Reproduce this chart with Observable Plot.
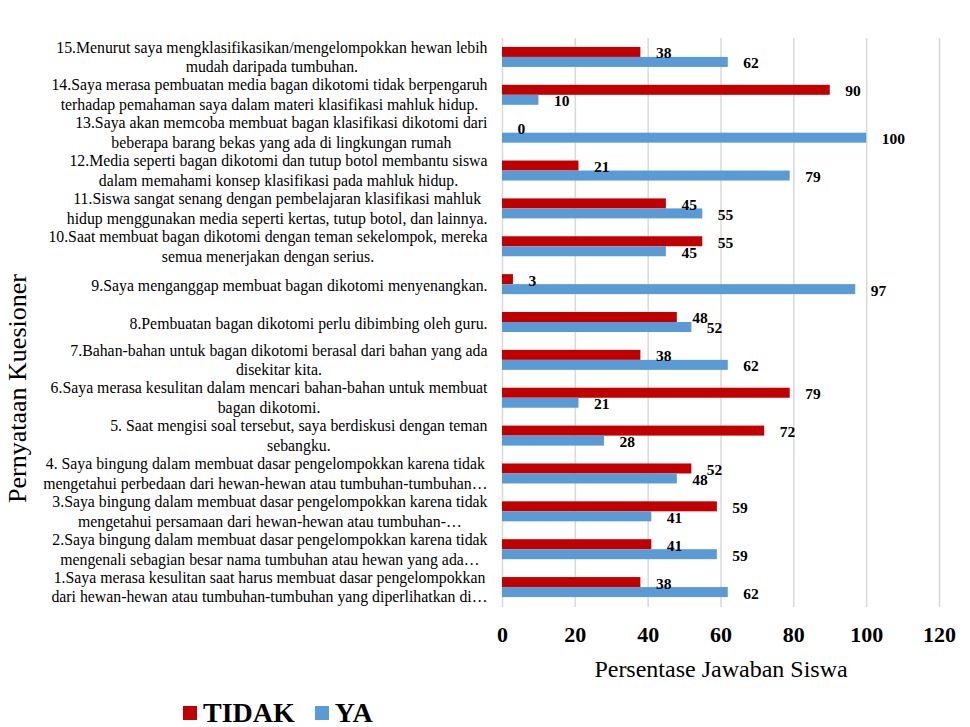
<!DOCTYPE html>
<html>
<head>
<meta charset="utf-8">
<script src="https://cdn.jsdelivr.net/npm/d3@7"></script>
<script src="https://cdn.jsdelivr.net/npm/@observablehq/plot@0.6"></script>
<style>
  html, body { margin: 0; padding: 0; background: #fff; }
  #chart { width: 970px; height: 686px; }
  .legend { display: flex; align-items: center; height: 28px; line-height: 28px; padding-left: 183px; margin-top: 13px;
    font-family: "Liberation Serif", "Times New Roman", serif; font-weight: bold; font-size: 28px; color: #000; }
  .legend .sw { width: 14px; height: 14px; display: inline-block; margin-right: 6px; }
  .legend .item { display: flex; align-items: center; margin-right: 20px; }
</style>
</head>
<body>
<div id="chart"></div>
<script>
const categories = ["1","2","3","4","5","6","7","8","9","10","11","12","13","14","15"];
const categoryLabels = [
  "1.Saya merasa kesulitan saat harus membuat dasar pengelompokkan\ndari hewan-hewan atau tumbuhan-tumbuhan yang diperlihatkan di…",
  "2.Saya bingung dalam membuat dasar pengelompokkan karena tidak\nmengenali sebagian besar nama tumbuhan atau hewan yang ada…",
  "3.Saya bingung dalam membuat dasar pengelompokkan karena tidak\nmengetahui persamaan dari hewan-hewan atau tumbuhan-…",
  "4. Saya bingung dalam membuat dasar pengelompokkan karena tidak\nmengetahui perbedaan dari hewan-hewan atau tumbuhan-tumbuhan…",
  "5. Saat mengisi soal tersebut, saya berdiskusi dengan teman\nsebangku.",
  "6.Saya merasa kesulitan dalam mencari bahan-bahan untuk membuat\nbagan dikotomi.",
  "7.Bahan-bahan untuk bagan dikotomi berasal dari bahan yang ada\ndisekitar kita.",
  "8.Pembuatan bagan dikotomi perlu dibimbing oleh guru.",
  "9.Saya menganggap membuat bagan dikotomi menyenangkan.",
  "10.Saat membuat bagan dikotomi dengan teman sekelompok, mereka\nsemua menerjakan dengan serius.",
  "11.Siswa sangat senang dengan pembelajaran klasifikasi mahluk\nhidup menggunakan media seperti kertas, tutup botol, dan lainnya.",
  "12.Media seperti bagan dikotomi dan tutup botol membantu siswa\ndalam memahami konsep klasifikasi pada mahluk hidup.",
  "13.Saya akan memcoba membuat bagan klasifikasi dikotomi dari\nbeberapa barang bekas yang ada di lingkungan rumah",
  "14.Saya merasa pembuatan media bagan dikotomi tidak berpengaruh\nterhadap pemahaman saya dalam materi klasifikasi mahluk hidup.",
  "15.Menurut saya mengklasifikasikan/mengelompokkan hewan lebih\nmudah daripada tumbuhan."
];
const tidak = [38, 41, 59, 52, 72, 79, 38, 48, 3, 55, 45, 21, 0, 90, 38];
const ya    = [62, 59, 41, 48, 28, 21, 62, 52, 97, 45, 55, 79, 100, 10, 62];
const seriesNames = ["TIDAK", "YA"];
const seriesColors = ["#C00000", "#5B9BD5"];
const xTicks = [0, 20, 40, 60, 80, 100, 120];
const xTitle = "Persentase Jawaban Siswa";
const yTitle = "Pernyataan Kuesioner";

const labelOf = new Map(categories.map((c, i) => [c, categoryLabels[i]]));
const rowsT = categories.map((c, i) => ({cat: c, value: tidak[i]}));
const rowsY = categories.map((c, i) => ({cat: c, value: ya[i]}));

const W = 970, H = 686;
const mTop = 38, mBottom = 80;
const band = (H - mTop - mBottom) / categories.length;
const half = 10;
const LH = 1.25;

const chart = Plot.plot({
  width: W, height: H,
  marginLeft: 502, marginRight: 31, marginTop: mTop, marginBottom: mBottom,
  style: {fontFamily: "'Liberation Serif', 'Times New Roman', serif", fontSize: "15.8px", color: "#000", background: "#fff"},
  x: {domain: [0, 120]},
  y: {domain: categories.slice().reverse(), padding: 0, round: false},
  marks: [
    Plot.ruleX(xTicks, {x: d => d, stroke: "#d9d9d9", strokeWidth: 1.5, insetBottom: -1}),
    Plot.barX(rowsT, {y: "cat", x: "value", fill: seriesColors[0],
      insetTop: band/2 - half, insetBottom: band/2}),
    Plot.barX(rowsY, {y: "cat", x: "value", fill: seriesColors[1],
      insetTop: band/2, insetBottom: band/2 - half}),
    Plot.text(rowsT, {y: "cat", x: "value", text: d => String(d.value), dx: 15, dy: -4,
      textAnchor: "start", fontWeight: "bold", fontSize: 15.5, fill: "#000"}),
    Plot.text(rowsY, {y: "cat", x: "value", text: d => String(d.value), dx: 15, dy: 6,
      textAnchor: "start", fontWeight: "bold", fontSize: 15.5, fill: "#000"}),
    Plot.axisX({ticks: xTicks, tickSize: 0, tickPadding: 20, fontSize: 22, fontWeight: "bold",
      label: xTitle, labelAnchor: "center", labelArrow: "none", labelOffset: 70}),
    Plot.axisY({tickSize: 0, tickPadding: 15, tickFormat: d => labelOf.get(d), lineHeight: LH,
      label: null}),
    Plot.text([yTitle], {frameAnchor: "left", text: d => d, rotate: -90, dx: -485, dy: 66,
      textAnchor: "middle", fontSize: 26, fill: "#000"})
  ]
});
document.getElementById("chart").appendChild(chart);

// style x-axis title
chart.querySelectorAll('g[aria-label="x-axis label"] text').forEach(t => {
  t.setAttribute("font-size", "24"); t.style.fontSize = "24px"; t.setAttribute("font-weight", "normal");
});

// center multi-line y tick labels within their block (right edge kept), vertically centered on band
chart.querySelectorAll('g[aria-label="y-axis tick label"] text').forEach(t => {
  const spans = t.querySelectorAll("tspan");
  const n = spans.length;
  if (n < 2) return;
  let maxW = 0;
  spans.forEach(s => { maxW = Math.max(maxW, s.getComputedTextLength()); });
  t.setAttribute("text-anchor", "middle");
  spans.forEach((s, i) => {
    s.setAttribute("x", String(-maxW / 2));
    s.removeAttribute("y");
    s.setAttribute("dy", i === 0 ? `${0.32 - (n - 1) / 2 * LH}em` : `${LH}em`);
  });
});

// legend
const legend = document.createElement("div");
legend.className = "legend";
seriesNames.forEach((n, i) => {
  const item = document.createElement("span");
  item.className = "item";
  const sw = document.createElement("span");
  sw.className = "sw"; sw.style.background = seriesColors[i];
  item.appendChild(sw);
  item.appendChild(document.createTextNode(n));
  legend.appendChild(item);
});
document.body.appendChild(legend);
</script>
</body>
</html>
